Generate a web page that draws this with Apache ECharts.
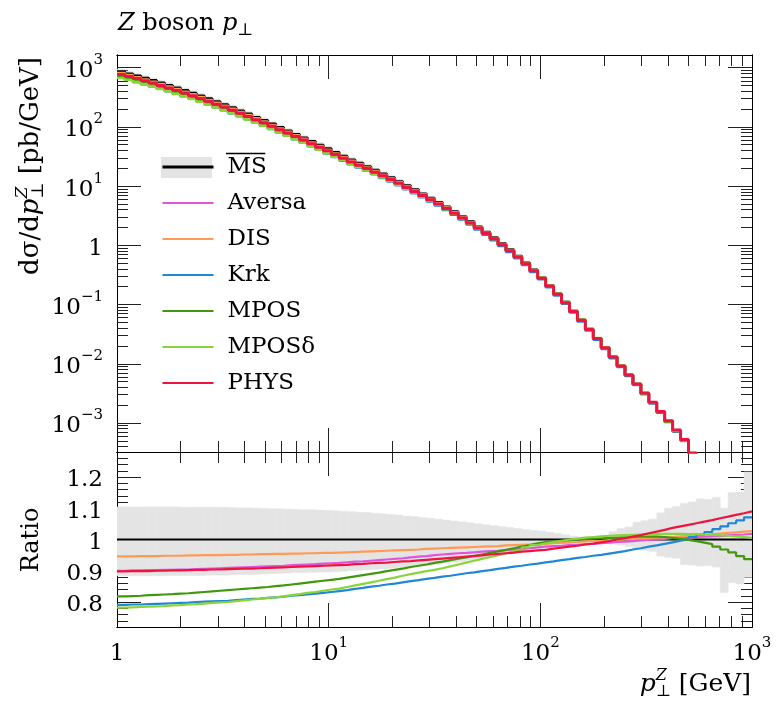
<!DOCTYPE html>
<html><head><meta charset="utf-8">
<script src="https://cdn.jsdelivr.net/npm/echarts@6/dist/echarts.min.js"></script>
<style>html,body{margin:0;padding:0;background:#fff}#c{width:781px;height:706px}</style>
</head><body><div id="c"></div>
<script>
const FONT = '"DejaVu Serif", serif';

// ---- binning: 80 log-spaced bins from 1 to 1000 GeV
const nBins = 80;
const binEdges = Array.from({length: nBins + 1}, (_, k) => Math.pow(10, 3 * k / nBins));

// ---- MSbar spectrum d sigma / d pT [pb/GeV]
const msSpectrum = [857,791,728,667,610,556,506,458,414,373,
  335,300,268,239,212,188,166,146,129,113,
  98.6,86.3,75.3,65.6,57.0,49.5,43.0,37.2,32.2,27.8,
  24.5,21.4,18.6,16.1,13.9,12.0,10.2,8.73,7.45,6.31,
  5.33,4.46,3.71,3.07,2.52,2.06,1.67,1.35,1.07,0.847,
  0.659,0.507,0.385,0.288,0.211,0.153,0.110,0.0780,0.0550,0.0385,
  0.0269,0.0187,0.0130,0.00916,0.00643,0.00450,0.00314,0.00219,0.00152,0.00105,
  0.000729,0.000504,0.000295,0.000200,0.000135,0.0000912,0.0000617,0.0000417,0.0000282,0.0000191];

// ---- ratios to MSbar
const ratioAversa = [0.900,0.901,0.901,0.902,0.902,0.903,0.903,0.904,0.904,0.905,
  0.906,0.907,0.908,0.909,0.910,0.911,0.912,0.913,0.914,0.915,
  0.916,0.918,0.919,0.920,0.921,0.923,0.924,0.925,0.927,0.929,
  0.930,0.932,0.934,0.936,0.938,0.940,0.943,0.945,0.947,0.950,
  0.952,0.954,0.956,0.957,0.959,0.961,0.963,0.964,0.966,0.968,
  0.970,0.972,0.975,0.977,0.979,0.980,0.982,0.983,0.985,0.986,
  0.988,0.990,0.992,0.993,0.995,0.997,0.999,1.000,1.002,1.004,
  1.005,1.006,1.008,1.009,1.010,1.011,1.013,1.015,1.016,1.018];
const ratioDIS = [0.946,0.946,0.947,0.947,0.947,0.948,0.948,0.948,0.949,0.949,
  0.950,0.950,0.950,0.951,0.951,0.952,0.952,0.953,0.953,0.954,
  0.954,0.955,0.955,0.956,0.956,0.957,0.957,0.958,0.959,0.960,
  0.961,0.962,0.963,0.964,0.965,0.966,0.967,0.968,0.970,0.971,
  0.972,0.973,0.974,0.975,0.976,0.977,0.978,0.979,0.981,0.982,
  0.983,0.984,0.985,0.986,0.988,0.989,0.991,0.992,0.994,0.995,
  0.996,0.998,0.999,1.001,1.002,1.003,1.004,1.006,1.007,1.008,
  1.010,1.012,1.014,1.015,1.017,1.019,1.021,1.023,1.025,1.027];
const ratioKrk = [0.791,0.792,0.792,0.793,0.794,0.795,0.796,0.797,0.798,0.800,
  0.801,0.802,0.803,0.804,0.806,0.808,0.810,0.811,0.813,0.815,
  0.817,0.820,0.822,0.824,0.827,0.829,0.832,0.835,0.838,0.842,
  0.845,0.849,0.852,0.856,0.859,0.863,0.867,0.870,0.874,0.877,
  0.881,0.884,0.888,0.892,0.895,0.899,0.902,0.906,0.909,0.913,
  0.916,0.920,0.923,0.927,0.930,0.934,0.937,0.941,0.944,0.948,
  0.951,0.955,0.959,0.963,0.968,0.972,0.977,0.981,0.986,0.991,
  0.996,1.001,1.008,1.016,1.024,1.033,1.042,1.052,1.061,1.071];
const ratioMPOS = [0.818,0.819,0.820,0.822,0.823,0.824,0.825,0.827,0.828,0.830,
  0.832,0.834,0.836,0.838,0.840,0.842,0.844,0.846,0.848,0.851,
  0.853,0.856,0.859,0.862,0.865,0.868,0.871,0.874,0.878,0.882,
  0.886,0.890,0.894,0.899,0.903,0.907,0.912,0.916,0.920,0.925,
  0.929,0.934,0.939,0.943,0.948,0.952,0.957,0.962,0.967,0.972,
  0.977,0.982,0.988,0.992,0.994,0.996,0.998,1.000,1.002,1.003,
  1.004,1.005,1.006,1.007,1.008,1.009,1.009,1.009,1.008,1.005,
  1.002,0.999,0.995,0.990,0.985,0.977,0.968,0.959,0.947,0.937];
const ratioMPOSd = [0.782,0.783,0.784,0.785,0.786,0.787,0.789,0.790,0.792,0.793,
  0.795,0.797,0.799,0.800,0.803,0.805,0.808,0.810,0.813,0.815,
  0.818,0.822,0.825,0.829,0.832,0.836,0.840,0.843,0.848,0.853,
  0.858,0.863,0.868,0.873,0.878,0.884,0.889,0.894,0.899,0.903,
  0.908,0.914,0.920,0.926,0.932,0.938,0.944,0.950,0.956,0.962,
  0.968,0.975,0.982,0.988,0.992,0.996,1.000,1.003,1.006,1.008,
  1.010,1.012,1.013,1.014,1.015,1.016,1.017,1.017,1.018,1.018,
  1.018,1.017,1.017,1.016,1.015,1.013,1.012,1.010,1.008,1.005];
const ratioPHYS = [0.898,0.899,0.899,0.899,0.900,0.900,0.901,0.901,0.902,0.903,
  0.903,0.904,0.904,0.905,0.906,0.907,0.907,0.908,0.909,0.910,
  0.911,0.912,0.913,0.914,0.915,0.916,0.917,0.918,0.919,0.921,
  0.922,0.924,0.925,0.926,0.928,0.930,0.931,0.933,0.935,0.937,
  0.939,0.941,0.943,0.945,0.947,0.949,0.952,0.954,0.956,0.958,
  0.961,0.963,0.965,0.967,0.971,0.974,0.977,0.980,0.984,0.987,
  0.991,0.995,1.000,1.004,1.009,1.014,1.020,1.025,1.031,1.037,
  1.042,1.047,1.052,1.057,1.062,1.068,1.073,1.079,1.084,1.090];

// ---- MSbar uncertainty band (relative)
const bandUp = [1.104,1.104,1.104,1.104,1.104,1.104,1.104,1.104,1.103,1.103,
  1.103,1.103,1.103,1.103,1.102,1.101,1.101,1.100,1.099,1.098,
  1.098,1.097,1.096,1.095,1.095,1.094,1.093,1.092,1.090,1.089,
  1.087,1.086,1.084,1.082,1.080,1.078,1.075,1.073,1.070,1.068,
  1.065,1.062,1.059,1.056,1.053,1.050,1.047,1.044,1.041,1.038,
  1.035,1.032,1.029,1.027,1.023,1.019,1.015,1.011,1.008,1.007,
  1.006,1.008,1.025,1.035,1.040,1.055,1.060,1.065,1.085,1.100,
  1.105,1.115,1.120,1.130,1.128,1.135,1.100,1.150,1.152,1.216];
const bandLo = [0.884,0.884,0.884,0.884,0.884,0.884,0.885,0.885,0.885,0.885,
  0.885,0.886,0.886,0.886,0.887,0.888,0.888,0.889,0.890,0.891,
  0.892,0.893,0.894,0.894,0.895,0.896,0.896,0.897,0.899,0.900,
  0.902,0.903,0.905,0.906,0.908,0.910,0.912,0.914,0.916,0.918,
  0.921,0.924,0.927,0.930,0.934,0.937,0.941,0.945,0.949,0.953,
  0.957,0.961,0.965,0.969,0.974,0.978,0.982,0.986,0.989,0.991,
  0.991,0.990,0.985,0.982,0.978,0.968,0.965,0.962,0.947,0.943,
  0.940,0.920,0.918,0.915,0.917,0.912,0.830,0.862,0.858,0.879];

// ---- series names / colours
const seriesNames = ['MS', 'Aversa', 'DIS', 'Krk', 'MPOS', 'MPOSδ', 'PHYS'];
const seriesColors = ['#000000', '#e055dc', '#ff9a55', '#1f88d6', '#41980f', '#88d43a', '#ee1440'];
const seriesRatios = [null, ratioAversa, ratioDIS, ratioKrk, ratioMPOS, ratioMPOSd, ratioPHYS];

// ---- axis ticks / labels
const xMajor = [10, 100];
const xMinor = [2,3,4,5,6,7,8,9,20,30,40,50,60,70,80,90,200,300,400,500,600,700,800,900];
const xLabels = [1, 10, 100, 1000];
const yMajor = [1e-3, 1e-2, 1e-1, 1, 10, 100, 1000];
const yMinor = [];
[1e-4, 1e-3, 1e-2, 1e-1, 1, 10, 100].forEach(d => [2,3,4,5,6,7,8,9].forEach(m => yMinor.push(+(m * d).toPrecision(3))));
const rMajor = [0.8, 0.9, 1.0, 1.1, 1.2];
const rMinor = [0.74,0.76,0.78,0.82,0.84,0.86,0.88,0.92,0.94,0.96,0.98,1.02,1.04,1.06,1.08,1.12,1.14,1.16,1.18,1.22,1.24,1.26];
const yTopMin = Math.pow(10, -3.49), yTopMax = Math.pow(10, 3.2145);
const rMin = 0.72, rMax = 1.28;

const rich = {
  b: {fontFamily: FONT, fontSize: 23, lineHeight: 30, verticalAlign: 'bottom', color: '#000'},
  s: {fontFamily: FONT, fontSize: 15, lineHeight: 16, verticalAlign: 'top', color: '#000'}
};
function powLabel(v) {
  const e = Math.round(Math.log10(v));
  if (e === 0) return '{b|1}';
  return '{b|10}{s|' + (e < 0 ? '\u2212' + (-e) : e) + '}';
}
const TICK = {color: '#222', width: 1};
const LINE = {show: true, onZero: false, lineStyle: {color: '#000', width: 1}};

function xAx(grid, pos, ticks, len, label) {
  return {
    type: 'log', logBase: 10, gridIndex: grid, position: pos, min: 1, max: 1000,
    axisLine: LINE,
    axisTick: {show: true, inside: true, length: len, customValues: ticks, lineStyle: TICK},
    axisLabel: label ? {show: true, customValues: xLabels, formatter: powLabel, rich: rich, margin: 9, color: '#000'} : {show: false},
    splitLine: {show: false}, minorTick: {show: false}
  };
}
function yLogAx(pos, ticks, len, label) {
  return {
    type: 'log', logBase: 10, gridIndex: 0, position: pos, min: yTopMin, max: yTopMax,
    axisLine: LINE,
    axisTick: {show: true, inside: true, length: len, customValues: ticks, lineStyle: TICK},
    axisLabel: label ? {show: true, customValues: yMajor, formatter: powLabel, rich: rich, margin: 14, color: '#000'} : {show: false},
    splitLine: {show: false}, minorTick: {show: false}
  };
}
function yRatAx(pos, ticks, len, label) {
  return {
    type: 'value', gridIndex: 1, position: pos, min: rMin, max: rMax,
    axisLine: LINE,
    axisTick: {show: true, inside: true, length: len, customValues: ticks, lineStyle: TICK},
    axisLabel: label ? {show: true, customValues: rMajor, formatter: v => '{b|' + (Math.abs(v - 1) < 1e-9 ? '1' : v.toFixed(1)) + '}', rich: rich, margin: 14, color: '#000'} : {show: false},
    splitLine: {show: false}, minorTick: {show: false}
  };
}

function stepData(vals) {
  return binEdges.map((e, i) => [e, vals[Math.min(i, vals.length - 1)]]);
}
function bandRender(p, api) {
  const a = api.coord([api.value(0), api.value(3)]);
  const b = api.coord([api.value(1), api.value(2)]);
  return {type: 'rect', shape: {x: a[0], y: a[1], width: b[0] - a[0], height: b[1] - a[1]},
    style: {fill: '#e4e4e4', stroke: '#e4e4e4', lineWidth: 0.6}};
}

const series = [];
series.push({
  type: 'custom', name: 'bandTop', xAxisIndex: 0, yAxisIndex: 0, clip: true, z: 1, silent: true,
  encode: {x: [0, 1], y: [2, 3]},
  data: msSpectrum.map((v, i) => [binEdges[i], binEdges[i + 1], v * bandLo[i], v * bandUp[i]]),
  renderItem: bandRender
});
series.push({
  type: 'custom', name: 'bandRatio', xAxisIndex: 4, yAxisIndex: 4, clip: true, z: 1, silent: true,
  encode: {x: [0, 1], y: [2, 3]},
  data: bandLo.map((v, i) => [binEdges[i], binEdges[i + 1], bandLo[i], bandUp[i]]),
  renderItem: bandRender
});
seriesNames.forEach((name, j) => {
  const r = seriesRatios[j];
  const topVals = msSpectrum.map((v, i) => v * (r ? r[i] : 1));
  const ratVals = msSpectrum.map((v, i) => (r ? r[i] : v / v));
  const col = seriesColors[j];
  series.push({
    type: 'line', name: name, step: 'end', symbol: 'none', xAxisIndex: 0, yAxisIndex: 0,
    clip: true, z: 3 + j, data: stepData(topVals),
    lineStyle: {color: col, width: name === 'PHYS' ? 3 : 2.6}, itemStyle: {color: col}
  });
  series.push({
    type: 'line', name: name, step: 'end', symbol: 'none', xAxisIndex: 4, yAxisIndex: 4,
    clip: true, z: 3 + j, data: stepData(ratVals),
    lineStyle: {color: col, width: 2.2}, itemStyle: {color: col}
  });
});

// ---- simple typesetting for titles with sub/superscripts
const mctx = document.createElement('canvas').getContext('2d');
function fontStr(p) { return (p.it ? 'italic ' : '') + p.size + 'px ' + FONT; }
function tw(p) { mctx.font = fontStr(p); return mctx.measureText(p.t).width; }
function typeset(pieces, align) {
  let x = 0; const placed = [];
  pieces.forEach(p => {
    const grp = Array.isArray(p) ? p : [p];
    let w = 0;
    grp.forEach(q => { placed.push({q: q, x: x}); w = Math.max(w, tw(q)); });
    x += w;
  });
  const off = align === 'right' ? -x : (align === 'center' ? -x / 2 : 0);
  return placed.map(o => ({
    type: 'text', x: o.x + off, y: (o.q.dy || 0) - 0.33 * o.q.size,
    style: {text: o.q.t, font: fontStr(o.q), fill: '#000', align: 'left', textAlign: 'left',
      verticalAlign: 'middle', textVerticalAlign: 'middle'}
  }));
}

const LEG_LEFT = 161, LEG_TOP = 155, LEG_W = 51, LEG_TEXT_PAD = 9;
const msTextW = tw({t: 'MS', size: 23});
const graphic = [
  {type: 'rect', x: LEG_LEFT, y: 157, shape: {width: LEG_W, height: 21}, style: {fill: '#e4e4e4'}, z: 3},
  {type: 'line', x: 0, y: 0, z: 6,
    shape: {x1: LEG_LEFT + LEG_W + 5 + LEG_TEXT_PAD, y1: 153.5, x2: LEG_LEFT + LEG_W + 5 + LEG_TEXT_PAD + msTextW, y2: 153.5},
    style: {stroke: '#000', lineWidth: 1.3}},
  {type: 'group', x: 118, y: 32, children: typeset([
    {t: 'Z', size: 24, it: true}, {t: ' boson ', size: 24}, {t: 'p', size: 24, it: true}, {t: '\u22A5', size: 17, dy: 4}
  ], 'left')},
  {type: 'group', x: 40, y: 57, rotation: Math.PI / 2, children: typeset([
    {t: 'd\u03C3/d', size: 26}, {t: 'p', size: 26, it: true},
    [{t: '\u22A5', size: 17, dy: 4}, {t: 'Z', size: 17, it: true, dy: -12}],
    {t: ' [pb/GeV]', size: 26}
  ], 'right')},
  {type: 'group', x: 40, y: 540, rotation: Math.PI / 2, children: typeset([
    {t: 'Ratio', size: 24}
  ], 'center')},
  {type: 'group', x: 751, y: 693, children: typeset([
    {t: 'p', size: 25, it: true},
    [{t: '\u22A5', size: 16, dy: 4}, {t: 'Z', size: 16, it: true, dy: -12}],
    {t: ' [GeV]', size: 25}
  ], 'right')}
];

const option = {
  animation: false,
  backgroundColor: '#fff',
  textStyle: {fontFamily: FONT},
  grid: [
    {left: 117, right: 29, top: 55, height: 397},
    {left: 117, right: 29, top: 452, height: 175}
  ],
  xAxis: [
    xAx(0, 'bottom', xMajor, 24, false), xAx(0, 'bottom', xMinor, 11, false),
    xAx(0, 'top', xMajor, 24, false), xAx(0, 'top', xMinor, 11, false),
    xAx(1, 'bottom', xMajor, 24, true), xAx(1, 'bottom', xMinor, 11, false),
    xAx(1, 'top', xMajor, 24, false), xAx(1, 'top', xMinor, 11, false)
  ],
  yAxis: [
    yLogAx('left', yMajor, 24, true), yLogAx('left', yMinor, 11, false),
    yLogAx('right', yMajor, 24, false), yLogAx('right', yMinor, 11, false),
    yRatAx('left', rMajor, 24, true), yRatAx('left', rMinor, 11, false),
    yRatAx('right', rMajor, 24, false), yRatAx('right', rMinor, 11, false)
  ],
  legend: {
    orient: 'vertical', left: LEG_LEFT, top: LEG_TOP, padding: 0,
    itemWidth: LEG_W, itemHeight: 14, itemGap: 12,
    selectedMode: false, z: 5,
    textStyle: {fontFamily: FONT, fontSize: 23, color: '#000', lineHeight: 24, padding: [0, 0, 0, LEG_TEXT_PAD]},
    itemStyle: {opacity: 0, borderWidth: 0},
    lineStyle: {width: 2},
    data: seriesNames.map(n => n === 'MS' ? {name: n, lineStyle: {width: 3}} : {name: n})
  },
  graphic: graphic,
  series: series
};
const chart = echarts.init(document.getElementById('c'), null, {renderer: 'canvas'});
chart.setOption(option);
</script>
</body></html>
